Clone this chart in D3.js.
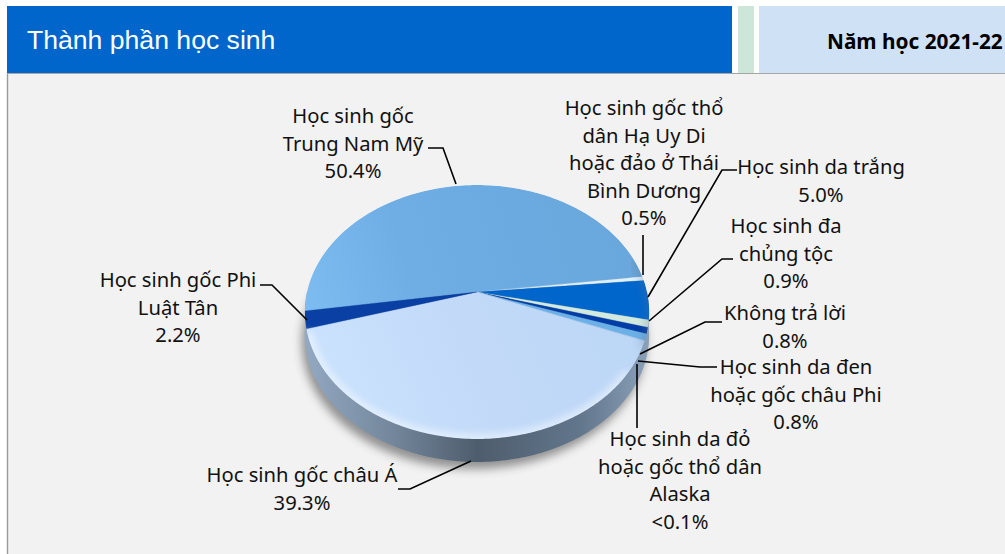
<!DOCTYPE html>
<html>
<head>
<meta charset="utf-8">
<script src="https://cdn.jsdelivr.net/npm/d3@7"></script>
<style>
html, body { margin: 0; padding: 0; background: #fff; overflow: hidden; }
svg { display: block; }
text { font-family: "Noto Sans", sans-serif; fill: #111; }
</style>
</head>
<body>
<div id="chart"></div>
<script>
// values
var groups = ["Học sinh gốc Trung Nam Mỹ", "Học sinh gốc thổ dân Hạ Uy Di hoặc đảo ở Thái Bình Dương", "Học sinh da trắng",
    "Học sinh đa chủng tộc", "Không trả lời", "Học sinh da đen hoặc gốc châu Phi",
    "Học sinh da đỏ hoặc gốc thổ dân Alaska", "Học sinh gốc châu Á", "Học sinh gốc Phi Luật Tân"];
var shares = [50.4, 0.5, 5.0, 0.9, 0.8, 0.8, 0.1, 39.3, 2.2];
var shareLabels = ["50.4%", "0.5%", "5.0%", "0.9%", "0.8%", "0.8%", "<0.1%", "39.3%", "2.2%"];
var titleText = "Thành phần học sinh";
var yearText = "Năm học 2021-22";

var width = 1005, height = 554;

// label layout, same order as groups
var sliceFill = ["url(#gradTop)", "#dff0f8", "#0066cc", "#d3eadf", "#003da6", "#6cb0e8", "#a9cdf2", "url(#gradAsia)", "#0a3fa3"];
var labelLines = [
    ["Học sinh gốc", "Trung Nam Mỹ"],
    ["Học sinh gốc thổ", "dân Hạ Uy Di", "hoặc đảo ở Thái", "Bình Dương"],
    ["Học sinh da trắng"],
    ["Học sinh đa", "chủng tộc"],
    ["Không trả lời"],
    ["Học sinh da đen", "hoặc gốc châu Phi"],
    ["Học sinh da đỏ", "hoặc gốc thổ dân", "Alaska"],
    ["Học sinh gốc châu Á"],
    ["Học sinh gốc Phi", "Luật Tân"]
];
var labelX = [353, 644, 821, 786, 785, 796, 680, 302, 178];
var labelY = [123, 115, 174, 233, 320, 374, 446, 482, 287];
var leaders = [
    [[428, 148], [443, 148], [456, 184]],
    [[643, 235], [643, 275]],
    [[737, 170], [722, 170], [648, 297]],
    [[733, 259], [722, 259], [649, 321]],
    [[722, 322], [705, 322], [640, 354]],
    [[717, 367], [700, 367], [638, 361]],
    [[637, 364], [637, 428]],
    [[398, 489], [410, 489], [471, 461]],
    [[260, 285], [272, 285], [307, 320]]
];

var svg = d3.select("#chart").append("svg")
    .attr("width", width)
    .attr("height", height);

var defs = svg.append("defs");

function addGradient(id, x1, x2, y1, y2, stops) {
    var g = defs.append("linearGradient")
        .attr("id", id)
        .attr("gradientUnits", "userSpaceOnUse")
        .attr("x1", x1).attr("x2", x2).attr("y1", y1).attr("y2", y2);
    stops.forEach(function (s) {
        g.append("stop").attr("offset", s[0]).attr("stop-color", s[1]);
    });
}

addGradient("gradTop", 305, 650, 300, 200, [[0, "#7cbcf0"], [0.3, "#6eaee5"], [1, "#68a6da"]]);
addGradient("gradAsia", 320, 640, 440, 300, [[0, "#cce4fe"], [0.5, "#c2daf8"], [1, "#bcd6f6"]]);
addGradient("gradSide", 305, 650, 0, 0, [[0, "#93a9c2"], [0.25, "#74879c"], [0.5, "#4e5d6d"], [0.8, "#62768c"], [1, "#8ba2ba"]]);

defs.append("filter").attr("id", "soft").attr("x", "-20%").attr("y", "-20%").attr("width", "140%").attr("height", "140%")
    .append("feGaussianBlur").attr("stdDeviation", 5);
defs.append("filter").attr("id", "rimBlur").attr("x", "-20%").attr("y", "-20%").attr("width", "140%").attr("height", "140%")
    .append("feGaussianBlur").attr("stdDeviation", 4);

// page
svg.append("rect").attr("x", 7).attr("y", 73).attr("width", width - 7).attr("height", height - 73)
    .attr("fill", "#f2f2f2");
svg.append("line").attr("x1", 7.5).attr("x2", 7.5).attr("y1", 73).attr("y2", height)
    .attr("stroke", "#9a9a9a").attr("stroke-width", 1.4);
svg.append("line").attr("x1", 7).attr("x2", width).attr("y1", 73.5).attr("y2", 73.5)
    .attr("stroke", "#a6a6a6").attr("stroke-width", 1.2);

// header bands
svg.append("rect").attr("x", 7).attr("y", 6).attr("width", 725).attr("height", 67).attr("fill", "#0066cc");
svg.append("rect").attr("x", 738).attr("y", 6).attr("width", 16).attr("height", 67).attr("fill", "#cce6da");
svg.append("rect").attr("x", 759).attr("y", 6).attr("width", 246).attr("height", 67).attr("fill", "#cfe2f5");

svg.append("text").attr("x", 27).attr("y", 49)
    .style("font-family", "'Liberation Sans', sans-serif")
    .style("font-size", "26.6px").style("fill", "#fff")
    .text(titleText);
svg.append("text").attr("x", 827).attr("y", 49)
    .style("font-weight", "bold").style("font-size", "20.8px").style("fill", "#000")
    .text(yearText);

// tilted disc: a unit circle seen in perspective
var cx = 477, apexY = 292, depth = 23;
var persp = 0.1575, scaleA = 170, scaleB = 123.8;

function project(angle) {
    var X = Math.sin(angle), Y = -Math.cos(angle);
    var w = 1 - persp * Y;
    return [cx + scaleA * X / w, apexY + scaleB * Y / w];
}

var pie = d3.pie().sort(null)
    .startAngle(-98.6 * Math.PI / 180)
    .endAngle((360 - 98.6) * Math.PI / 180);
var slices = pie(shares);

var rimLine = d3.line();

function rimPoints(a0, a1) {
    var n = Math.max(2, Math.ceil((a1 - a0) * 60));
    return d3.range(n + 1).map(function (i) {
        return project(a0 + (a1 - a0) * i / n);
    });
}

var fullRim = rimPoints(0, 2 * Math.PI);
var discPath = rimLine(fullRim) + "Z";

defs.append("clipPath").attr("id", "discClip").append("path").attr("d", discPath);

// shadow and side wall
svg.append("path").attr("d", discPath)
    .attr("transform", "translate(-3," + (depth + 7) + ")")
    .attr("fill", "#333").attr("opacity", 0.5)
    .attr("filter", "url(#soft)");
svg.append("path").attr("d", discPath)
    .attr("transform", "translate(0," + depth + ")")
    .attr("fill", "url(#gradSide)");
svg.append("rect")
    .attr("x", 305).attr("width", 345)
    .attr("y", apexY).attr("height", depth + 30)
    .attr("fill", "url(#gradSide)")
    .attr("clip-path", "url(#discClip)");

// top face
var face = svg.append("g").attr("clip-path", "url(#discClip)");

face.selectAll("path.slice")
    .data(slices)
    .enter()
    .append("path")
    .attr("class", "slice")
    .attr("d", function (d) {
        return rimLine([[cx, apexY]].concat(rimPoints(d.startAngle, d.endAngle))) + "Z";
    })
    .attr("fill", function (d, i) { return sliceFill[i]; })
    .attr("stroke", function (d, i) { return sliceFill[i]; })
    .attr("stroke-width", 0.3);

// bevel on the near edge
face.append("path")
    .attr("d", rimLine(rimPoints(2.2, 4.4)))
    .attr("fill", "none")
    .attr("stroke", "#fff")
    .attr("stroke-width", 7)
    .attr("opacity", 0.7)
    .attr("filter", "url(#rimBlur)");
face.append("path")
    .attr("d", rimLine(rimPoints(1.3, 2.0)))
    .attr("fill", "none")
    .attr("stroke", "#5c7590")
    .attr("stroke-width", 5)
    .attr("opacity", 0.45)
    .attr("filter", "url(#rimBlur)");

// leaders
svg.selectAll("path.leader")
    .data(leaders)
    .enter()
    .append("path")
    .attr("class", "leader")
    .attr("d", function (d) { return d3.line()(d); })
    .attr("fill", "none")
    .attr("stroke", "#000")
    .attr("stroke-width", 1.6);

// labels
var lineH = 27.6;
groups.forEach(function (g, i) {
    var t = svg.append("text")
        .attr("text-anchor", "middle")
        .style("font-size", "20.2px");
    labelLines[i].concat([shareLabels[i]]).forEach(function (line, j) {
        t.append("tspan")
            .attr("x", labelX[i])
            .attr("y", labelY[i] + j * lineH)
            .text(line);
    });
});
</script>
</body>
</html>
